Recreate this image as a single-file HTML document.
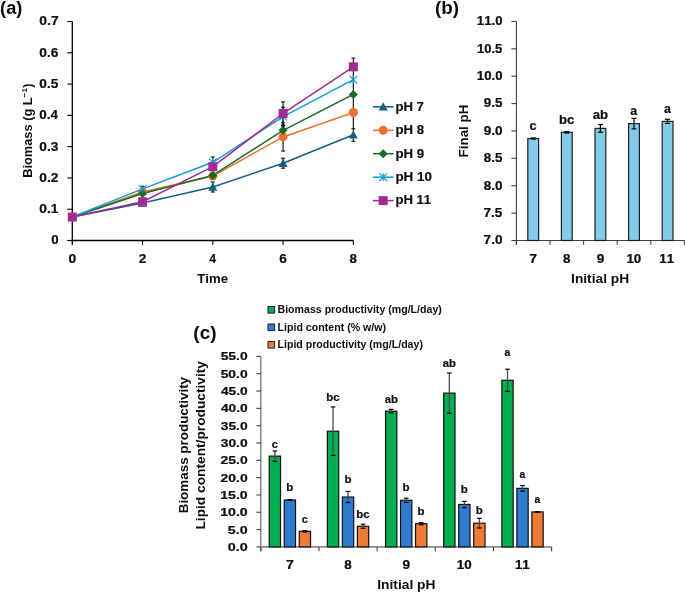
<!DOCTYPE html>
<html><head><meta charset="utf-8"><style>
html,body{margin:0;padding:0;background:#fff;}
svg{display:block;filter:blur(0.35px);font-family:"Liberation Sans", sans-serif;font-kerning:none;}
</style></head><body>
<svg width="685" height="592" viewBox="0 0 685 592">
<rect width="685" height="592" fill="#fff"/>
<line x1="72.30" y1="21.50" x2="72.30" y2="245.00" stroke="#000" stroke-width="1.3" />
<line x1="71.65" y1="240.50" x2="353.34" y2="240.50" stroke="#000" stroke-width="1.3" />
<line x1="67.30" y1="240.50" x2="72.30" y2="240.50" stroke="#000" stroke-width="1.1" />
<line x1="67.30" y1="209.21" x2="72.30" y2="209.21" stroke="#000" stroke-width="1.1" />
<line x1="67.30" y1="177.93" x2="72.30" y2="177.93" stroke="#000" stroke-width="1.1" />
<line x1="67.30" y1="146.64" x2="72.30" y2="146.64" stroke="#000" stroke-width="1.1" />
<line x1="67.30" y1="115.36" x2="72.30" y2="115.36" stroke="#000" stroke-width="1.1" />
<line x1="67.30" y1="84.07" x2="72.30" y2="84.07" stroke="#000" stroke-width="1.1" />
<line x1="67.30" y1="52.78" x2="72.30" y2="52.78" stroke="#000" stroke-width="1.1" />
<line x1="67.30" y1="21.50" x2="72.30" y2="21.50" stroke="#000" stroke-width="1.1" />
<line x1="142.56" y1="240.50" x2="142.56" y2="245.00" stroke="#000" stroke-width="1.1" />
<line x1="212.82" y1="240.50" x2="212.82" y2="245.00" stroke="#000" stroke-width="1.1" />
<line x1="283.08" y1="240.50" x2="283.08" y2="245.00" stroke="#000" stroke-width="1.1" />
<line x1="353.34" y1="240.50" x2="353.34" y2="245.00" stroke="#000" stroke-width="1.1" />
<text transform="translate(51.18,244.40) scale(1.1039,1)" font-size="12" font-weight="bold" fill="#0d0d0d" stroke="#0d0d0d" stroke-width="0.2">0</text>
<text transform="translate(39.36,213.11) scale(1.1403,1)" font-size="12" font-weight="bold" fill="#0d0d0d" stroke="#0d0d0d" stroke-width="0.2">0.1</text>
<text transform="translate(39.35,181.83) scale(1.1509,1)" font-size="12" font-weight="bold" fill="#0d0d0d" stroke="#0d0d0d" stroke-width="0.2">0.2</text>
<text transform="translate(39.36,150.54) scale(1.1475,1)" font-size="12" font-weight="bold" fill="#0d0d0d" stroke="#0d0d0d" stroke-width="0.2">0.3</text>
<text transform="translate(39.37,119.26) scale(1.1213,1)" font-size="12" font-weight="bold" fill="#0d0d0d" stroke="#0d0d0d" stroke-width="0.2">0.4</text>
<text transform="translate(39.36,87.97) scale(1.1403,1)" font-size="12" font-weight="bold" fill="#0d0d0d" stroke="#0d0d0d" stroke-width="0.2">0.5</text>
<text transform="translate(39.36,56.68) scale(1.1475,1)" font-size="12" font-weight="bold" fill="#0d0d0d" stroke="#0d0d0d" stroke-width="0.2">0.6</text>
<text transform="translate(39.35,25.40) scale(1.1544,1)" font-size="12" font-weight="bold" fill="#0d0d0d" stroke="#0d0d0d" stroke-width="0.2">0.7</text>
<text transform="translate(68.45,262.70) scale(1.1565,1)" font-size="12" font-weight="bold" fill="#0d0d0d" stroke="#0d0d0d" stroke-width="0.2">0</text>
<text transform="translate(138.78,262.70) scale(1.1424,1)" font-size="12" font-weight="bold" fill="#0d0d0d" stroke="#0d0d0d" stroke-width="0.2">2</text>
<text transform="translate(209.33,262.70) scale(1.0268,1)" font-size="12" font-weight="bold" fill="#0d0d0d" stroke="#0d0d0d" stroke-width="0.2">4</text>
<text transform="translate(279.28,262.70) scale(1.1378,1)" font-size="12" font-weight="bold" fill="#0d0d0d" stroke="#0d0d0d" stroke-width="0.2">6</text>
<text transform="translate(349.62,262.70) scale(1.1141,1)" font-size="12" font-weight="bold" fill="#0d0d0d" stroke="#0d0d0d" stroke-width="0.2">8</text>
<text transform="translate(197.25,282.60) scale(1.0997,1)" font-size="12" font-weight="bold" fill="#0d0d0d">Time</text>
<text transform="translate(0.09,13.90) scale(1.0145,1)" font-size="18" font-weight="bold" fill="#0d0d0d">(a)</text>
<text transform="translate(31.90,177.76) rotate(-90) scale(1.0253,1)" font-size="12.5" font-weight="bold" fill="#0d0d0d">Biomass (g L<tspan font-size="8.0" dy="-4.6">−1</tspan><tspan dy="4.6" dx="0.3">)</tspan></text>
<polyline points="72.30,217.04 142.56,202.96 212.82,187.00 283.08,163.22 353.34,134.75" fill="none" stroke="#156082" stroke-width="1.5" stroke-linejoin="round"/>
<polyline points="72.30,217.04 142.56,192.01 212.82,176.05 283.08,136.94 353.34,112.54" fill="none" stroke="#E97132" stroke-width="1.5" stroke-linejoin="round"/>
<polyline points="72.30,217.04 142.56,193.57 212.82,175.43 283.08,130.37 353.34,94.39" fill="none" stroke="#196B24" stroke-width="1.5" stroke-linejoin="round"/>
<polyline points="72.30,217.04 142.56,188.88 212.82,162.28 283.08,116.61 353.34,79.69" fill="none" stroke="#0F9ED5" stroke-width="1.5" stroke-linejoin="round"/>
<polyline points="72.30,217.04 142.56,201.71 212.82,166.67 283.08,113.48 353.34,66.86" fill="none" stroke="#A02B93" stroke-width="1.5" stroke-linejoin="round"/>
<line x1="353.34" y1="58.10" x2="353.34" y2="141.32" stroke="#111" stroke-width="1.15" />
<line x1="351.34" y1="58.10" x2="355.34" y2="58.10" stroke="#111" stroke-width="1.1" />
<line x1="351.34" y1="128.81" x2="355.34" y2="128.81" stroke="#111" stroke-width="1.1" />
<line x1="351.34" y1="141.32" x2="355.34" y2="141.32" stroke="#111" stroke-width="1.1" />
<line x1="142.56" y1="201.71" x2="142.56" y2="204.21" stroke="#111" stroke-width="1.15" />
<line x1="140.56" y1="201.71" x2="144.56" y2="201.71" stroke="#111" stroke-width="1.1" />
<line x1="140.56" y1="204.21" x2="144.56" y2="204.21" stroke="#111" stroke-width="1.1" />
<line x1="212.82" y1="182.00" x2="212.82" y2="192.01" stroke="#111" stroke-width="1.15" />
<line x1="210.82" y1="182.00" x2="214.82" y2="182.00" stroke="#111" stroke-width="1.1" />
<line x1="210.82" y1="192.01" x2="214.82" y2="192.01" stroke="#111" stroke-width="1.1" />
<line x1="283.08" y1="158.22" x2="283.08" y2="168.23" stroke="#111" stroke-width="1.15" />
<line x1="281.08" y1="158.22" x2="285.08" y2="158.22" stroke="#111" stroke-width="1.1" />
<line x1="281.08" y1="168.23" x2="285.08" y2="168.23" stroke="#111" stroke-width="1.1" />
<line x1="142.56" y1="190.44" x2="142.56" y2="193.57" stroke="#111" stroke-width="1.15" />
<line x1="140.56" y1="190.44" x2="144.56" y2="190.44" stroke="#111" stroke-width="1.1" />
<line x1="140.56" y1="193.57" x2="144.56" y2="193.57" stroke="#111" stroke-width="1.1" />
<line x1="212.82" y1="172.92" x2="212.82" y2="179.18" stroke="#111" stroke-width="1.15" />
<line x1="210.82" y1="172.92" x2="214.82" y2="172.92" stroke="#111" stroke-width="1.1" />
<line x1="210.82" y1="179.18" x2="214.82" y2="179.18" stroke="#111" stroke-width="1.1" />
<line x1="283.08" y1="122.86" x2="283.08" y2="151.02" stroke="#111" stroke-width="1.15" />
<line x1="281.08" y1="122.86" x2="285.08" y2="122.86" stroke="#111" stroke-width="1.1" />
<line x1="281.08" y1="151.02" x2="285.08" y2="151.02" stroke="#111" stroke-width="1.1" />
<line x1="142.56" y1="192.01" x2="142.56" y2="195.14" stroke="#111" stroke-width="1.15" />
<line x1="140.56" y1="192.01" x2="144.56" y2="192.01" stroke="#111" stroke-width="1.1" />
<line x1="140.56" y1="195.14" x2="144.56" y2="195.14" stroke="#111" stroke-width="1.1" />
<line x1="212.82" y1="172.30" x2="212.82" y2="178.55" stroke="#111" stroke-width="1.15" />
<line x1="210.82" y1="172.30" x2="214.82" y2="172.30" stroke="#111" stroke-width="1.1" />
<line x1="210.82" y1="178.55" x2="214.82" y2="178.55" stroke="#111" stroke-width="1.1" />
<line x1="283.08" y1="125.68" x2="283.08" y2="135.07" stroke="#111" stroke-width="1.15" />
<line x1="281.08" y1="125.68" x2="285.08" y2="125.68" stroke="#111" stroke-width="1.1" />
<line x1="281.08" y1="135.07" x2="285.08" y2="135.07" stroke="#111" stroke-width="1.1" />
<line x1="142.56" y1="186.38" x2="142.56" y2="191.38" stroke="#111" stroke-width="1.15" />
<line x1="140.56" y1="186.38" x2="144.56" y2="186.38" stroke="#111" stroke-width="1.1" />
<line x1="140.56" y1="191.38" x2="144.56" y2="191.38" stroke="#111" stroke-width="1.1" />
<line x1="212.82" y1="156.97" x2="212.82" y2="167.60" stroke="#111" stroke-width="1.15" />
<line x1="210.82" y1="156.97" x2="214.82" y2="156.97" stroke="#111" stroke-width="1.1" />
<line x1="210.82" y1="167.60" x2="214.82" y2="167.60" stroke="#111" stroke-width="1.1" />
<line x1="283.08" y1="107.22" x2="283.08" y2="125.99" stroke="#111" stroke-width="1.15" />
<line x1="281.08" y1="107.22" x2="285.08" y2="107.22" stroke="#111" stroke-width="1.1" />
<line x1="281.08" y1="125.99" x2="285.08" y2="125.99" stroke="#111" stroke-width="1.1" />
<line x1="142.56" y1="199.83" x2="142.56" y2="203.58" stroke="#111" stroke-width="1.15" />
<line x1="140.56" y1="199.83" x2="144.56" y2="199.83" stroke="#111" stroke-width="1.1" />
<line x1="140.56" y1="203.58" x2="144.56" y2="203.58" stroke="#111" stroke-width="1.1" />
<line x1="212.82" y1="163.54" x2="212.82" y2="169.79" stroke="#111" stroke-width="1.15" />
<line x1="210.82" y1="163.54" x2="214.82" y2="163.54" stroke="#111" stroke-width="1.1" />
<line x1="210.82" y1="169.79" x2="214.82" y2="169.79" stroke="#111" stroke-width="1.1" />
<line x1="283.08" y1="101.90" x2="283.08" y2="125.05" stroke="#111" stroke-width="1.15" />
<line x1="281.08" y1="101.90" x2="285.08" y2="101.90" stroke="#111" stroke-width="1.1" />
<line x1="281.08" y1="125.05" x2="285.08" y2="125.05" stroke="#111" stroke-width="1.1" />
<path d="M72.30,212.54 L76.80,220.86 L67.80,220.86 Z" fill="#156082"/>
<path d="M142.56,198.46 L147.06,206.78 L138.06,206.78 Z" fill="#156082"/>
<path d="M212.82,182.50 L217.32,190.83 L208.32,190.83 Z" fill="#156082"/>
<path d="M283.08,158.72 L287.58,167.05 L278.58,167.05 Z" fill="#156082"/>
<path d="M353.34,130.25 L357.84,138.58 L348.84,138.58 Z" fill="#156082"/>
<circle cx="72.30" cy="217.04" r="4.50" fill="#E97132"/>
<circle cx="142.56" cy="192.01" r="4.50" fill="#E97132"/>
<circle cx="212.82" cy="176.05" r="4.50" fill="#E97132"/>
<circle cx="283.08" cy="136.94" r="4.50" fill="#E97132"/>
<circle cx="353.34" cy="112.54" r="4.50" fill="#E97132"/>
<path d="M72.30,212.54 L76.80,217.04 L72.30,221.54 L67.80,217.04 Z" fill="#196B24"/>
<path d="M142.56,189.07 L147.06,193.57 L142.56,198.07 L138.06,193.57 Z" fill="#196B24"/>
<path d="M212.82,170.93 L217.32,175.43 L212.82,179.93 L208.32,175.43 Z" fill="#196B24"/>
<path d="M283.08,125.87 L287.58,130.37 L283.08,134.87 L278.58,130.37 Z" fill="#196B24"/>
<path d="M353.34,89.89 L357.84,94.39 L353.34,98.89 L348.84,94.39 Z" fill="#196B24"/>
<path d="M68.50,213.24 L76.10,220.84 M76.10,213.24 L68.50,220.84 M72.30,213.04 L72.30,221.04" stroke="#0F9ED5" stroke-width="1.15" fill="none"/>
<path d="M138.76,185.08 L146.36,192.68 M146.36,185.08 L138.76,192.68 M142.56,184.88 L142.56,192.88" stroke="#0F9ED5" stroke-width="1.15" fill="none"/>
<path d="M209.02,158.48 L216.62,166.09 M216.62,158.48 L209.02,166.09 M212.82,158.28 L212.82,166.28" stroke="#0F9ED5" stroke-width="1.15" fill="none"/>
<path d="M279.28,112.81 L286.88,120.41 M286.88,112.81 L279.28,120.41 M283.08,112.61 L283.08,120.61" stroke="#0F9ED5" stroke-width="1.15" fill="none"/>
<path d="M349.54,75.89 L357.14,83.49 M357.14,75.89 L349.54,83.49 M353.34,75.69 L353.34,83.69" stroke="#0F9ED5" stroke-width="1.15" fill="none"/>
<rect x="67.80" y="212.54" width="9.00" height="9.00" fill="#A02B93"/>
<rect x="138.06" y="197.21" width="9.00" height="9.00" fill="#A02B93"/>
<rect x="208.32" y="162.17" width="9.00" height="9.00" fill="#A02B93"/>
<rect x="278.58" y="108.98" width="9.00" height="9.00" fill="#A02B93"/>
<rect x="348.84" y="62.36" width="9.00" height="9.00" fill="#A02B93"/>
<line x1="373.00" y1="106.80" x2="393.60" y2="106.80" stroke="#156082" stroke-width="1.5" />
<path d="M383.20,102.30 L387.70,110.62 L378.70,110.62 Z" fill="#156082"/>
<text transform="translate(395.43,110.60) scale(1.0758,1)" font-size="12.2" font-weight="bold" fill="#0d0d0d" stroke="#0d0d0d" stroke-width="0.15">pH 7</text>
<line x1="373.00" y1="130.30" x2="393.60" y2="130.30" stroke="#E97132" stroke-width="1.5" />
<circle cx="383.20" cy="130.30" r="4.50" fill="#E97132"/>
<text transform="translate(395.43,134.10) scale(1.0809,1)" font-size="12.2" font-weight="bold" fill="#0d0d0d" stroke="#0d0d0d" stroke-width="0.15">pH 8</text>
<line x1="373.00" y1="153.70" x2="393.60" y2="153.70" stroke="#196B24" stroke-width="1.5" />
<path d="M383.20,149.20 L387.70,153.70 L383.20,158.20 L378.70,153.70 Z" fill="#196B24"/>
<text transform="translate(395.43,157.50) scale(1.0842,1)" font-size="12.2" font-weight="bold" fill="#0d0d0d" stroke="#0d0d0d" stroke-width="0.15">pH 9</text>
<line x1="373.00" y1="177.20" x2="393.60" y2="177.20" stroke="#0F9ED5" stroke-width="1.5" />
<path d="M379.40,173.40 L387.00,181.00 M387.00,173.40 L379.40,181.00 M383.20,173.20 L383.20,181.20" stroke="#0F9ED5" stroke-width="1.15" fill="none"/>
<text transform="translate(395.41,181.00) scale(1.1028,1)" font-size="12.2" font-weight="bold" fill="#0d0d0d" stroke="#0d0d0d" stroke-width="0.15">pH 10</text>
<line x1="373.00" y1="200.60" x2="393.60" y2="200.60" stroke="#A02B93" stroke-width="1.5" />
<rect x="378.70" y="196.10" width="9.00" height="9.00" fill="#A02B93"/>
<text transform="translate(395.44,204.40) scale(1.0755,1)" font-size="12.2" font-weight="bold" fill="#0d0d0d" stroke="#0d0d0d" stroke-width="0.15">pH 11</text>
<line x1="516.40" y1="21.42" x2="516.40" y2="244.80" stroke="#404040" stroke-width="1.1" />
<line x1="515.90" y1="240.50" x2="684.40" y2="240.50" stroke="#404040" stroke-width="1.1" />
<line x1="511.40" y1="240.50" x2="516.40" y2="240.50" stroke="#404040" stroke-width="1.1" />
<text transform="translate(483.61,244.40) scale(1.1357,1)" font-size="12" font-weight="bold" fill="#0d0d0d" stroke="#0d0d0d" stroke-width="0.2">7.0</text>
<line x1="511.40" y1="213.12" x2="516.40" y2="213.12" stroke="#404040" stroke-width="1.1" />
<text transform="translate(483.62,217.02) scale(1.1243,1)" font-size="12" font-weight="bold" fill="#0d0d0d" stroke="#0d0d0d" stroke-width="0.2">7.5</text>
<line x1="511.40" y1="185.73" x2="516.40" y2="185.73" stroke="#404040" stroke-width="1.1" />
<text transform="translate(483.77,189.63) scale(1.1260,1)" font-size="12" font-weight="bold" fill="#0d0d0d" stroke="#0d0d0d" stroke-width="0.2">8.0</text>
<line x1="511.40" y1="158.34" x2="516.40" y2="158.34" stroke="#404040" stroke-width="1.1" />
<text transform="translate(483.78,162.25) scale(1.1148,1)" font-size="12" font-weight="bold" fill="#0d0d0d" stroke="#0d0d0d" stroke-width="0.2">8.5</text>
<line x1="511.40" y1="130.96" x2="516.40" y2="130.96" stroke="#404040" stroke-width="1.1" />
<text transform="translate(483.73,134.86) scale(1.1285,1)" font-size="12" font-weight="bold" fill="#0d0d0d" stroke="#0d0d0d" stroke-width="0.2">9.0</text>
<line x1="511.40" y1="103.57" x2="516.40" y2="103.57" stroke="#404040" stroke-width="1.1" />
<text transform="translate(483.74,107.47) scale(1.1173,1)" font-size="12" font-weight="bold" fill="#0d0d0d" stroke="#0d0d0d" stroke-width="0.2">9.5</text>
<line x1="511.40" y1="76.19" x2="516.40" y2="76.19" stroke="#404040" stroke-width="1.1" />
<text transform="translate(476.87,80.09) scale(1.0992,1)" font-size="12" font-weight="bold" fill="#0d0d0d" stroke="#0d0d0d" stroke-width="0.2">10.0</text>
<line x1="511.40" y1="48.80" x2="516.40" y2="48.80" stroke="#404040" stroke-width="1.1" />
<text transform="translate(476.88,52.70) scale(1.0914,1)" font-size="12" font-weight="bold" fill="#0d0d0d" stroke="#0d0d0d" stroke-width="0.2">10.5</text>
<line x1="511.40" y1="21.42" x2="516.40" y2="21.42" stroke="#404040" stroke-width="1.1" />
<text transform="translate(476.87,25.32) scale(1.0992,1)" font-size="12" font-weight="bold" fill="#0d0d0d" stroke="#0d0d0d" stroke-width="0.2">11.0</text>
<line x1="516.40" y1="240.50" x2="516.40" y2="244.80" stroke="#404040" stroke-width="1.1" />
<line x1="550.00" y1="240.50" x2="550.00" y2="244.80" stroke="#404040" stroke-width="1.1" />
<line x1="583.60" y1="240.50" x2="583.60" y2="244.80" stroke="#404040" stroke-width="1.1" />
<line x1="617.20" y1="240.50" x2="617.20" y2="244.80" stroke="#404040" stroke-width="1.1" />
<line x1="650.80" y1="240.50" x2="650.80" y2="244.80" stroke="#404040" stroke-width="1.1" />
<line x1="684.40" y1="240.50" x2="684.40" y2="244.80" stroke="#404040" stroke-width="1.1" />
<rect x="527.80" y="138.52" width="10.80" height="101.98" fill="#83CBEB" stroke="#1f1f1f" stroke-width="1.2"/>
<line x1="533.20" y1="137.97" x2="533.20" y2="139.07" stroke="#000" stroke-width="1.2" />
<line x1="530.70" y1="137.97" x2="535.70" y2="137.97" stroke="#000" stroke-width="1.2" />
<line x1="530.70" y1="139.07" x2="535.70" y2="139.07" stroke="#000" stroke-width="1.2" />
<text transform="translate(529.30,262.50) scale(1.1721,1)" font-size="12" font-weight="bold" fill="#0d0d0d" stroke="#0d0d0d" stroke-width="0.2">7</text>
<text transform="translate(529.60,129.60) scale(1.0592,1)" font-size="12" font-weight="bold" fill="#0d0d0d" stroke="#0d0d0d" stroke-width="0.2">c</text>
<rect x="561.40" y="132.33" width="10.80" height="108.17" fill="#83CBEB" stroke="#1f1f1f" stroke-width="1.2"/>
<line x1="566.80" y1="131.67" x2="566.80" y2="132.99" stroke="#000" stroke-width="1.2" />
<line x1="564.30" y1="131.67" x2="569.30" y2="131.67" stroke="#000" stroke-width="1.2" />
<line x1="564.30" y1="132.99" x2="569.30" y2="132.99" stroke="#000" stroke-width="1.2" />
<text transform="translate(563.08,262.50) scale(1.1141,1)" font-size="12" font-weight="bold" fill="#0d0d0d" stroke="#0d0d0d" stroke-width="0.2">8</text>
<text transform="translate(558.94,123.70) scale(1.0885,1)" font-size="12" font-weight="bold" fill="#0d0d0d" stroke="#0d0d0d" stroke-width="0.2">bc</text>
<rect x="595.00" y="128.39" width="10.80" height="112.11" fill="#83CBEB" stroke="#1f1f1f" stroke-width="1.2"/>
<line x1="600.40" y1="124.55" x2="600.40" y2="132.22" stroke="#000" stroke-width="1.2" />
<line x1="597.90" y1="124.55" x2="602.90" y2="124.55" stroke="#000" stroke-width="1.2" />
<line x1="597.90" y1="132.22" x2="602.90" y2="132.22" stroke="#000" stroke-width="1.2" />
<text transform="translate(596.63,262.50) scale(1.1355,1)" font-size="12" font-weight="bold" fill="#0d0d0d" stroke="#0d0d0d" stroke-width="0.2">9</text>
<text transform="translate(592.82,118.60) scale(1.0942,1)" font-size="12" font-weight="bold" fill="#0d0d0d" stroke="#0d0d0d" stroke-width="0.2">ab</text>
<rect x="628.60" y="123.62" width="10.80" height="116.88" fill="#83CBEB" stroke="#1f1f1f" stroke-width="1.2"/>
<line x1="634.00" y1="118.36" x2="634.00" y2="128.88" stroke="#000" stroke-width="1.2" />
<line x1="631.50" y1="118.36" x2="636.50" y2="118.36" stroke="#000" stroke-width="1.2" />
<line x1="631.50" y1="128.88" x2="636.50" y2="128.88" stroke="#000" stroke-width="1.2" />
<text transform="translate(626.41,262.50) scale(1.1157,1)" font-size="12" font-weight="bold" fill="#0d0d0d" stroke="#0d0d0d" stroke-width="0.2">10</text>
<text transform="translate(630.34,114.90) scale(1.0315,1)" font-size="12" font-weight="bold" fill="#0d0d0d" stroke="#0d0d0d" stroke-width="0.2">a</text>
<rect x="662.20" y="121.38" width="10.80" height="119.12" fill="#83CBEB" stroke="#1f1f1f" stroke-width="1.2"/>
<line x1="667.60" y1="119.29" x2="667.60" y2="123.46" stroke="#000" stroke-width="1.2" />
<line x1="665.10" y1="119.29" x2="670.10" y2="119.29" stroke="#000" stroke-width="1.2" />
<line x1="665.10" y1="123.46" x2="670.10" y2="123.46" stroke="#000" stroke-width="1.2" />
<text transform="translate(659.32,262.50) scale(1.1013,1)" font-size="12" font-weight="bold" fill="#0d0d0d" stroke="#0d0d0d" stroke-width="0.2">11</text>
<text transform="translate(663.94,112.80) scale(1.0315,1)" font-size="12" font-weight="bold" fill="#0d0d0d" stroke="#0d0d0d" stroke-width="0.2">a</text>
<text transform="translate(571.08,282.60) scale(1.1457,1)" font-size="12" font-weight="bold" fill="#0d0d0d">Initial pH</text>
<text transform="translate(435.06,13.60) scale(1.0476,1)" font-size="18" font-weight="bold" fill="#0d0d0d">(b)</text>
<text transform="translate(468.40,157.39) rotate(-90) scale(1.0276,1)" font-size="13" font-weight="bold" fill="#0d0d0d">Final pH</text>
<line x1="260.80" y1="356.40" x2="260.80" y2="551.40" stroke="#8c8c8c" stroke-width="1.6" />
<line x1="260.00" y1="546.90" x2="551.60" y2="546.90" stroke="#8c8c8c" stroke-width="1.6" />
<line x1="256.40" y1="546.90" x2="260.80" y2="546.90" stroke="#404040" stroke-width="1.1" />
<text transform="translate(227.73,550.90) scale(1.3051,1)" font-size="11" font-weight="bold" fill="#0d0d0d" stroke="#0d0d0d" stroke-width="0.2">0.0</text>
<line x1="256.40" y1="529.58" x2="260.80" y2="529.58" stroke="#404040" stroke-width="1.1" />
<text transform="translate(227.86,533.58) scale(1.2964,1)" font-size="11" font-weight="bold" fill="#0d0d0d" stroke="#0d0d0d" stroke-width="0.2">5.0</text>
<line x1="256.40" y1="512.26" x2="260.80" y2="512.26" stroke="#404040" stroke-width="1.1" />
<text transform="translate(220.21,516.26) scale(1.2830,1)" font-size="11" font-weight="bold" fill="#0d0d0d" stroke="#0d0d0d" stroke-width="0.2">10.0</text>
<line x1="256.40" y1="494.95" x2="260.80" y2="494.95" stroke="#404040" stroke-width="1.1" />
<text transform="translate(220.21,498.95) scale(1.2830,1)" font-size="11" font-weight="bold" fill="#0d0d0d" stroke="#0d0d0d" stroke-width="0.2">15.0</text>
<line x1="256.40" y1="477.63" x2="260.80" y2="477.63" stroke="#404040" stroke-width="1.1" />
<text transform="translate(220.62,481.63) scale(1.2636,1)" font-size="11" font-weight="bold" fill="#0d0d0d" stroke="#0d0d0d" stroke-width="0.2">20.0</text>
<line x1="256.40" y1="460.31" x2="260.80" y2="460.31" stroke="#404040" stroke-width="1.1" />
<text transform="translate(220.62,464.31) scale(1.2636,1)" font-size="11" font-weight="bold" fill="#0d0d0d" stroke="#0d0d0d" stroke-width="0.2">25.0</text>
<line x1="256.40" y1="442.99" x2="260.80" y2="442.99" stroke="#404040" stroke-width="1.1" />
<text transform="translate(220.78,446.99) scale(1.2557,1)" font-size="11" font-weight="bold" fill="#0d0d0d" stroke="#0d0d0d" stroke-width="0.2">30.0</text>
<line x1="256.40" y1="425.67" x2="260.80" y2="425.67" stroke="#404040" stroke-width="1.1" />
<text transform="translate(220.78,429.67) scale(1.2557,1)" font-size="11" font-weight="bold" fill="#0d0d0d" stroke="#0d0d0d" stroke-width="0.2">35.0</text>
<line x1="256.40" y1="408.36" x2="260.80" y2="408.36" stroke="#404040" stroke-width="1.1" />
<text transform="translate(220.89,412.36) scale(1.2505,1)" font-size="11" font-weight="bold" fill="#0d0d0d" stroke="#0d0d0d" stroke-width="0.2">40.0</text>
<line x1="256.40" y1="391.04" x2="260.80" y2="391.04" stroke="#404040" stroke-width="1.1" />
<text transform="translate(220.89,395.04) scale(1.2505,1)" font-size="11" font-weight="bold" fill="#0d0d0d" stroke="#0d0d0d" stroke-width="0.2">45.0</text>
<line x1="256.40" y1="373.72" x2="260.80" y2="373.72" stroke="#404040" stroke-width="1.1" />
<text transform="translate(220.67,377.72) scale(1.2609,1)" font-size="11" font-weight="bold" fill="#0d0d0d" stroke="#0d0d0d" stroke-width="0.2">50.0</text>
<line x1="256.40" y1="356.40" x2="260.80" y2="356.40" stroke="#404040" stroke-width="1.1" />
<text transform="translate(220.67,360.40) scale(1.2609,1)" font-size="11" font-weight="bold" fill="#0d0d0d" stroke="#0d0d0d" stroke-width="0.2">55.0</text>
<line x1="260.80" y1="546.90" x2="260.80" y2="551.30" stroke="#404040" stroke-width="1.1" />
<line x1="318.96" y1="546.90" x2="318.96" y2="551.30" stroke="#404040" stroke-width="1.1" />
<line x1="377.12" y1="546.90" x2="377.12" y2="551.30" stroke="#404040" stroke-width="1.1" />
<line x1="435.28" y1="546.90" x2="435.28" y2="551.30" stroke="#404040" stroke-width="1.1" />
<line x1="493.44" y1="546.90" x2="493.44" y2="551.30" stroke="#404040" stroke-width="1.1" />
<line x1="551.60" y1="546.90" x2="551.60" y2="551.30" stroke="#404040" stroke-width="1.1" />
<rect x="269.23" y="456.15" width="11.30" height="90.75" fill="#00B050" stroke="#111" stroke-width="1.2"/>
<line x1="274.88" y1="450.96" x2="274.88" y2="461.35" stroke="#4a4a4a" stroke-width="1.3" />
<line x1="272.58" y1="450.96" x2="277.18" y2="450.96" stroke="#000" stroke-width="1.2" />
<line x1="272.58" y1="461.35" x2="277.18" y2="461.35" stroke="#000" stroke-width="1.2" />
<text transform="translate(271.75,447.80) scale(1.0543,1)" font-size="10.5" font-weight="bold" fill="#0d0d0d" stroke="#0d0d0d" stroke-width="0.2">c</text>
<rect x="284.23" y="499.97" width="11.30" height="46.93" fill="#2E7CD1" stroke="#111" stroke-width="1.2"/>
<line x1="289.88" y1="499.62" x2="289.88" y2="500.31" stroke="#4a4a4a" stroke-width="1.3" />
<line x1="287.58" y1="499.62" x2="292.18" y2="499.62" stroke="#000" stroke-width="1.2" />
<line x1="287.58" y1="500.31" x2="292.18" y2="500.31" stroke="#000" stroke-width="1.2" />
<text transform="translate(286.22,491.40) scale(1.0962,1)" font-size="10.5" font-weight="bold" fill="#0d0d0d" stroke="#0d0d0d" stroke-width="0.2">b</text>
<rect x="299.23" y="531.31" width="11.30" height="15.59" fill="#ED7A35" stroke="#111" stroke-width="1.2"/>
<line x1="304.88" y1="530.62" x2="304.88" y2="532.01" stroke="#4a4a4a" stroke-width="1.3" />
<line x1="302.58" y1="530.62" x2="307.18" y2="530.62" stroke="#000" stroke-width="1.2" />
<line x1="302.58" y1="532.01" x2="307.18" y2="532.01" stroke="#000" stroke-width="1.2" />
<text transform="translate(301.75,522.60) scale(1.0543,1)" font-size="10.5" font-weight="bold" fill="#0d0d0d" stroke="#0d0d0d" stroke-width="0.2">c</text>
<text transform="translate(285.98,569.00) scale(1.1721,1)" font-size="12" font-weight="bold" fill="#0d0d0d" stroke="#0d0d0d" stroke-width="0.2">7</text>
<rect x="327.39" y="431.22" width="11.30" height="115.68" fill="#00B050" stroke="#111" stroke-width="1.2"/>
<line x1="333.04" y1="406.97" x2="333.04" y2="455.46" stroke="#4a4a4a" stroke-width="1.3" />
<line x1="330.74" y1="406.97" x2="335.34" y2="406.97" stroke="#000" stroke-width="1.2" />
<line x1="330.74" y1="455.46" x2="335.34" y2="455.46" stroke="#000" stroke-width="1.2" />
<text transform="translate(326.19,400.80) scale(1.0841,1)" font-size="10.5" font-weight="bold" fill="#0d0d0d" stroke="#0d0d0d" stroke-width="0.2">bc</text>
<rect x="342.39" y="497.02" width="11.30" height="49.88" fill="#2E7CD1" stroke="#111" stroke-width="1.2"/>
<line x1="348.04" y1="491.48" x2="348.04" y2="502.57" stroke="#4a4a4a" stroke-width="1.3" />
<line x1="345.74" y1="491.48" x2="350.34" y2="491.48" stroke="#000" stroke-width="1.2" />
<line x1="345.74" y1="502.57" x2="350.34" y2="502.57" stroke="#000" stroke-width="1.2" />
<text transform="translate(344.38,482.80) scale(1.0962,1)" font-size="10.5" font-weight="bold" fill="#0d0d0d" stroke="#0d0d0d" stroke-width="0.2">b</text>
<rect x="357.39" y="526.29" width="11.30" height="20.61" fill="#ED7A35" stroke="#111" stroke-width="1.2"/>
<line x1="363.04" y1="524.21" x2="363.04" y2="528.37" stroke="#4a4a4a" stroke-width="1.3" />
<line x1="360.74" y1="524.21" x2="365.34" y2="524.21" stroke="#000" stroke-width="1.2" />
<line x1="360.74" y1="528.37" x2="365.34" y2="528.37" stroke="#000" stroke-width="1.2" />
<text transform="translate(356.19,517.60) scale(1.0841,1)" font-size="10.5" font-weight="bold" fill="#0d0d0d" stroke="#0d0d0d" stroke-width="0.2">bc</text>
<text transform="translate(344.32,569.00) scale(1.1141,1)" font-size="12" font-weight="bold" fill="#0d0d0d" stroke="#0d0d0d" stroke-width="0.2">8</text>
<rect x="385.55" y="411.13" width="11.30" height="135.77" fill="#00B050" stroke="#111" stroke-width="1.2"/>
<line x1="391.20" y1="409.40" x2="391.20" y2="412.86" stroke="#4a4a4a" stroke-width="1.3" />
<line x1="388.90" y1="409.40" x2="393.50" y2="409.40" stroke="#000" stroke-width="1.2" />
<line x1="388.90" y1="412.86" x2="393.50" y2="412.86" stroke="#000" stroke-width="1.2" />
<text transform="translate(384.67,402.70) scale(1.0768,1)" font-size="10.5" font-weight="bold" fill="#0d0d0d" stroke="#0d0d0d" stroke-width="0.2">ab</text>
<rect x="400.55" y="500.31" width="11.30" height="46.59" fill="#2E7CD1" stroke="#111" stroke-width="1.2"/>
<line x1="406.20" y1="498.24" x2="406.20" y2="502.39" stroke="#4a4a4a" stroke-width="1.3" />
<line x1="403.90" y1="498.24" x2="408.50" y2="498.24" stroke="#000" stroke-width="1.2" />
<line x1="403.90" y1="502.39" x2="408.50" y2="502.39" stroke="#000" stroke-width="1.2" />
<text transform="translate(402.54,491.30) scale(1.0962,1)" font-size="10.5" font-weight="bold" fill="#0d0d0d" stroke="#0d0d0d" stroke-width="0.2">b</text>
<rect x="415.55" y="523.69" width="11.30" height="23.21" fill="#ED7A35" stroke="#111" stroke-width="1.2"/>
<line x1="421.20" y1="522.65" x2="421.20" y2="524.73" stroke="#4a4a4a" stroke-width="1.3" />
<line x1="418.90" y1="522.65" x2="423.50" y2="522.65" stroke="#000" stroke-width="1.2" />
<line x1="418.90" y1="524.73" x2="423.50" y2="524.73" stroke="#000" stroke-width="1.2" />
<text transform="translate(417.54,515.40) scale(1.0962,1)" font-size="10.5" font-weight="bold" fill="#0d0d0d" stroke="#0d0d0d" stroke-width="0.2">b</text>
<text transform="translate(402.43,569.00) scale(1.1355,1)" font-size="12" font-weight="bold" fill="#0d0d0d" stroke="#0d0d0d" stroke-width="0.2">9</text>
<rect x="443.71" y="393.12" width="11.30" height="153.78" fill="#00B050" stroke="#111" stroke-width="1.2"/>
<line x1="449.36" y1="373.03" x2="449.36" y2="413.21" stroke="#4a4a4a" stroke-width="1.3" />
<line x1="447.06" y1="373.03" x2="451.66" y2="373.03" stroke="#000" stroke-width="1.2" />
<line x1="447.06" y1="413.21" x2="451.66" y2="413.21" stroke="#000" stroke-width="1.2" />
<text transform="translate(442.83,366.60) scale(1.0768,1)" font-size="10.5" font-weight="bold" fill="#0d0d0d" stroke="#0d0d0d" stroke-width="0.2">ab</text>
<rect x="458.71" y="504.47" width="11.30" height="42.43" fill="#2E7CD1" stroke="#111" stroke-width="1.2"/>
<line x1="464.36" y1="501.35" x2="464.36" y2="507.59" stroke="#4a4a4a" stroke-width="1.3" />
<line x1="462.06" y1="501.35" x2="466.66" y2="501.35" stroke="#000" stroke-width="1.2" />
<line x1="462.06" y1="507.59" x2="466.66" y2="507.59" stroke="#000" stroke-width="1.2" />
<text transform="translate(460.70,492.80) scale(1.0962,1)" font-size="10.5" font-weight="bold" fill="#0d0d0d" stroke="#0d0d0d" stroke-width="0.2">b</text>
<rect x="473.71" y="523.17" width="11.30" height="23.73" fill="#ED7A35" stroke="#111" stroke-width="1.2"/>
<line x1="479.36" y1="518.33" x2="479.36" y2="528.02" stroke="#4a4a4a" stroke-width="1.3" />
<line x1="477.06" y1="518.33" x2="481.66" y2="518.33" stroke="#000" stroke-width="1.2" />
<line x1="477.06" y1="528.02" x2="481.66" y2="528.02" stroke="#000" stroke-width="1.2" />
<text transform="translate(475.70,514.20) scale(1.0962,1)" font-size="10.5" font-weight="bold" fill="#0d0d0d" stroke="#0d0d0d" stroke-width="0.2">b</text>
<text transform="translate(456.77,569.00) scale(1.1157,1)" font-size="12" font-weight="bold" fill="#0d0d0d" stroke="#0d0d0d" stroke-width="0.2">10</text>
<rect x="501.87" y="380.30" width="11.30" height="166.60" fill="#00B050" stroke="#111" stroke-width="1.2"/>
<line x1="507.52" y1="369.22" x2="507.52" y2="391.38" stroke="#4a4a4a" stroke-width="1.3" />
<line x1="505.22" y1="369.22" x2="509.82" y2="369.22" stroke="#000" stroke-width="1.2" />
<line x1="505.22" y1="391.38" x2="509.82" y2="391.38" stroke="#000" stroke-width="1.2" />
<text transform="translate(504.47,355.50) scale(0.9824,1)" font-size="10.5" font-weight="bold" fill="#0d0d0d" stroke="#0d0d0d" stroke-width="0.2">a</text>
<rect x="516.87" y="488.37" width="11.30" height="58.53" fill="#2E7CD1" stroke="#111" stroke-width="1.2"/>
<line x1="522.52" y1="485.59" x2="522.52" y2="491.14" stroke="#4a4a4a" stroke-width="1.3" />
<line x1="520.22" y1="485.59" x2="524.82" y2="485.59" stroke="#000" stroke-width="1.2" />
<line x1="520.22" y1="491.14" x2="524.82" y2="491.14" stroke="#000" stroke-width="1.2" />
<text transform="translate(519.47,477.70) scale(0.9824,1)" font-size="10.5" font-weight="bold" fill="#0d0d0d" stroke="#0d0d0d" stroke-width="0.2">a</text>
<rect x="531.87" y="511.92" width="11.30" height="34.98" fill="#ED7A35" stroke="#111" stroke-width="1.2"/>
<line x1="537.52" y1="511.57" x2="537.52" y2="512.26" stroke="#4a4a4a" stroke-width="1.3" />
<line x1="535.22" y1="511.57" x2="539.82" y2="511.57" stroke="#000" stroke-width="1.2" />
<line x1="535.22" y1="512.26" x2="539.82" y2="512.26" stroke="#000" stroke-width="1.2" />
<text transform="translate(534.47,503.00) scale(0.9824,1)" font-size="10.5" font-weight="bold" fill="#0d0d0d" stroke="#0d0d0d" stroke-width="0.2">a</text>
<text transform="translate(514.94,569.00) scale(1.1013,1)" font-size="12" font-weight="bold" fill="#0d0d0d" stroke="#0d0d0d" stroke-width="0.2">11</text>
<text transform="translate(377.28,588.60) scale(1.1497,1)" font-size="12" font-weight="bold" fill="#0d0d0d">Initial pH</text>
<text transform="translate(193.35,339.20) scale(1.0591,1)" font-size="18" font-weight="bold" fill="#0d0d0d">(c)</text>
<text transform="translate(188.10,513.30) rotate(-90) scale(1.0323,1)" font-size="13" font-weight="bold" fill="#0d0d0d">Biomass productivity</text>
<text transform="translate(205.40,529.52) rotate(-90) scale(1.0563,1)" font-size="13" font-weight="bold" fill="#0d0d0d">Lipid content/productivity</text>
<rect x="268.00" y="306.50" width="6.60" height="6.60" fill="#00B050" stroke="#222" stroke-width="1.0"/>
<text transform="translate(277.49,313.00) scale(1.0620,1)" font-size="10" font-weight="bold" fill="#0d0d0d">Biomass productivity (mg/L/day)</text>
<rect x="268.00" y="324.00" width="6.60" height="6.60" fill="#2E7CD1" stroke="#222" stroke-width="1.0"/>
<text transform="translate(277.49,330.50) scale(1.0639,1)" font-size="10" font-weight="bold" fill="#0d0d0d">Lipid content (% w/w)</text>
<rect x="268.00" y="341.50" width="6.60" height="6.60" fill="#ED7A35" stroke="#222" stroke-width="1.0"/>
<text transform="translate(277.49,348.00) scale(1.0613,1)" font-size="10" font-weight="bold" fill="#0d0d0d">Lipid productivity (mg/L/day)</text>
</svg>
</body></html>
